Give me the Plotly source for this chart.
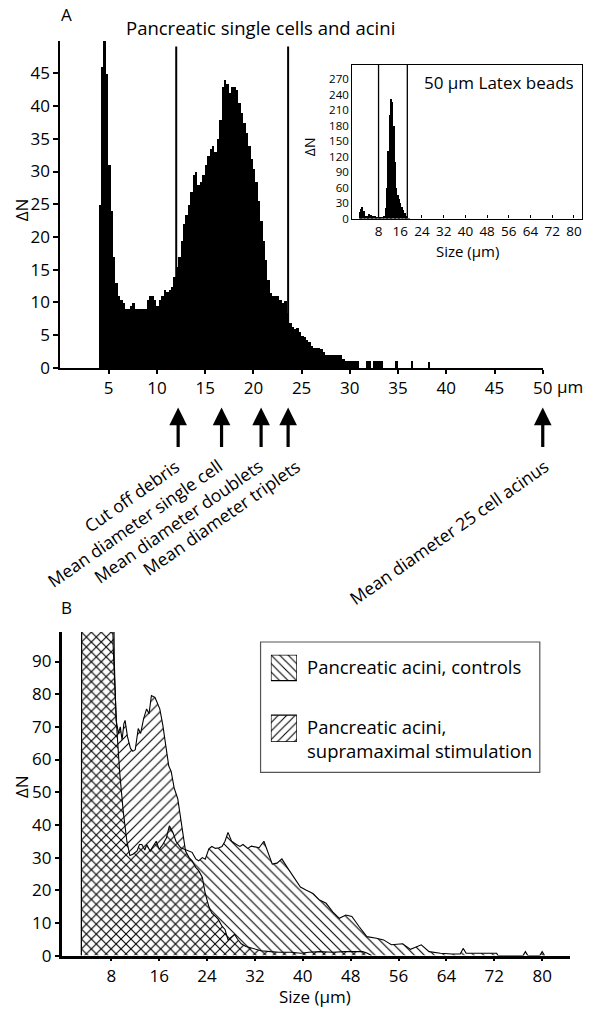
import plotly.graph_objects as go

W, H = 597, 1020


def px(x):
    return x / W


def py(y):
    return 1 - y / H


FONT = "'Open Sans', Lato, sans-serif"

# ---------------- Panel A : pancreatic single cells and acini ----------------
A_BIN_START = 4.0
A_BIN_WIDTH = 0.25
a_counts = [
    25, 46, 50, 45, 31, 24, 17, 13,            # 4.0 - 6.0
    11, 10.5, 10, 9.1, 9, 9.5, 10, 9,          # 6.0 - 8.0
    9, 9, 9, 9.1, 10.5, 11, 11, 10.5,          # 8.0 - 10.0
    9.5, 10.5, 11, 12, 11.6, 12, 12.4, 14,     # 10.0 - 12.0
    15.5, 17, 19.5, 22, 23.5, 25, 27, 29.5,    # 12.0 - 14.0
    30, 28, 28.5, 29.5, 31, 32.5, 33.5, 34,    # 14.0 - 16.0
    33, 35, 38, 43, 44, 43.5, 42, 43,          # 16.0 - 18.0
    43, 42.5, 40.5, 39, 37.5, 36, 34, 32,      # 18.0 - 20.0
    30.5, 28.5, 25.5, 22.5, 19.5, 16.5, 13.5, 11.5,  # 20.0 - 22.0
    11, 11, 11, 10.5, 10, 10.3, 8.5, 7,        # 22.0 - 24.0
    6.3, 6, 6.1, 5.5, 5, 4.8, 4.4, 4.1,        # 24.0 - 26.0
    3.5, 3.1, 3.1, 3.1, 3, 2.5, 2.1, 2.1,      # 26.0 - 28.0
    2.1, 2.1, 2, 2.1, 2.1, 1.5, 1.1, 1.1,      # 28.0 - 30.0
    1.1, 1.1, 1.1, 1.1, 0, 0, 0, 1.1,          # 30.0 - 32.0
    1.1, 0, 1.1, 1.1, 1.1, 1.1,                # 32.0 - 33.5
]
a_size = [A_BIN_START + A_BIN_WIDTH * (i + 0.5) for i in range(len(a_counts))]
a_sparse_size = [34.9, 36.5, 38.3]
a_sparse_counts = [1.2, 1.1, 1.0]
a_cut_lines = [12.0, 23.6]
a_line_top = 49.1
a_xticks = [5, 10, 15, 20, 25, 30, 35, 40, 45, 50]
a_yticks = [0, 5, 10, 15, 20, 25, 30, 35, 40, 45]
arrow_pos = [12.2, 16.7, 20.8, 23.6, 50.0]
arrow_labels = ["Cut off debris", "Mean diameter single cell",
                "Mean diameter doublets", "Mean diameter triplets",
                "Mean diameter 25 cell acinus"]
arrow_label_shift = [8, 8, 9, 20, 13]

# ---------------- Inset : 50 um latex beads ----------------
INSET_BIN_START = 1.0
INSET_BIN_WIDTH = 0.5
inset_counts = [
    12, 18, 23, 14, 6, 5, 6, 8, 7, 6, 5, 5, 4, 3,   # 1.0 - 8.0
    3, 3, 3, 4, 6, 20, 60, 130, 200, 232, 225, 180,  # 8.0 - 14.0
    110, 60, 45, 38, 30, 22, 16, 10, 6, 2, 1,        # 14.0 - 19.5
]
inset_size = [INSET_BIN_START + INSET_BIN_WIDTH * (i + 0.5) for i in range(len(inset_counts))]
inset_lines = [8.0, 18.6]
inset_line_top = 297
inset_xticks = [8, 16, 24, 32, 40, 48, 56, 64, 72, 80]
inset_yticks = [0, 30, 60, 90, 120, 150, 180, 210, 240, 270]

# ---------------- Panel B : controls vs supramaximal stimulation ----------------
b_ctrl_size = [3.0, 3.05, 7.9, 8.3, 8.6, 8.9, 9.4, 10.0, 10.6, 11.1, 11.6, 12.3, 12.7,
               13.1, 13.6, 13.9, 14.5, 15.0, 15.5, 16.0, 16.6, 17.2, 17.7, 18.3, 18.8,
               19.6, 20.4, 21.0, 21.5, 22.1, 22.6, 23.2, 23.7, 24.3, 24.8, 25.4, 26.0,
               26.5, 27.0, 27.5, 28.1, 28.9, 29.5, 30.0, 30.8, 31.4, 31.9, 32.7, 33.5,
               34.1, 34.9, 35.7, 36.5, 37.4, 38.5, 39.6, 40.6, 41.7, 42.8, 43.9, 45.0,
               46.1, 47.2, 48.2, 49.4, 50.7, 52.3, 53.5, 54.8, 56.7, 58.0, 59.8, 61.1,
               63.0, 64.9, 66.3, 66.8, 67.3, 72.4, 72.6, 76.8, 77.2, 77.6, 79.6, 80.0,
               80.4]
b_ctrl_dN = [0, 150, 150, 95, 82, 70, 56, 44, 35, 30.6, 31, 32, 34,
             34, 32.3, 34, 32, 33.5, 35, 32.5, 34, 36, 39.7, 37.7, 35,
             33, 32.5, 32, 31.6, 29.6, 29, 30, 29.5, 32.7, 33.4, 32.8, 33,
             33.4, 35, 37.7, 35, 34, 33.4, 34, 32.8, 33.5, 33.3, 33, 35,
             32, 28, 28.3, 29.6, 27, 24, 21, 20, 19, 17, 16, 13.4,
             11.4, 12.4, 12, 8.9, 5.8, 5.3, 4.8, 3.3, 3.6, 1.9, 3.3, 1.2,
             0.7, 0.5, 0.5, 2.2, 0.7, 0.7, 0, 0, 1.2, 0, 0, 1.2,
             0]
b_stim_size = [3.0, 3.05, 8.2, 8.5, 8.8, 9.2, 9.5, 9.8, 10.1, 10.3, 10.7, 11.2, 11.6,
               12.0, 12.5, 12.9, 13.4, 13.9, 14.3, 14.7, 15.3, 15.7, 16.1, 16.6, 17.2,
               17.6, 18.0, 18.5, 19.1, 19.6, 20.2, 20.4, 21.0, 21.5, 22.1, 22.6, 23.2,
               23.7, 24.3, 24.8, 25.4, 25.9, 26.5, 27.0, 27.5, 28.0, 28.6, 29.1, 29.7,
               30.5, 31.9, 33.0, 34.6, 36.0, 38.0, 39.7, 41.0, 42.8, 45.0, 47.0, 50.0,
               50.7, 51.5]
b_stim_dN = [0, 150, 150, 90, 72, 68, 70, 66, 71, 72, 67, 63.4, 62.5,
             63, 69.5, 68, 72.5, 75.5, 74, 79.6, 79, 77.5, 75.5, 70.6, 62.4,
             58, 56.4, 51.3, 48, 42.2, 34, 32, 30, 29, 27, 26, 24,
             19, 15, 13, 12, 11, 9, 8, 4.8, 5.5, 6.5, 5, 3.6,
             2.8, 2, 1.5, 1.2, 1, 1, 0.7, 1, 1.2, 1, 1.2, 1.2,
             0.8, 0]
b_xticks = [8, 16, 24, 32, 40, 48, 56, 64, 72, 80]
b_yticks = [0, 10, 20, 30, 40, 50, 60, 70, 80, 90]
legend_labels = ["Pancreatic acini, controls",
                 "Pancreatic acini,<br>supramaximal stimulation"]

fig = go.Figure()

# Panel A histogram
fig.add_trace(go.Bar(x=a_size, y=a_counts, width=A_BIN_WIDTH, marker=dict(color="black", line=dict(width=0)),
                     xaxis="x", yaxis="y"))
fig.add_trace(go.Bar(x=a_sparse_size, y=a_sparse_counts, width=0.2, marker=dict(color="black", line=dict(width=0)),
                     xaxis="x", yaxis="y"))
for xv in a_cut_lines:
    fig.add_trace(go.Scatter(x=[xv, xv], y=[0, a_line_top], mode="lines",
                             line=dict(color="black", width=2), xaxis="x", yaxis="y"))

# Inset histogram
fig.add_trace(go.Bar(x=inset_size, y=inset_counts, width=INSET_BIN_WIDTH,
                     marker=dict(color="black", line=dict(width=0)), xaxis="x2", yaxis="y2"))
for xv in inset_lines:
    fig.add_trace(go.Scatter(x=[xv, xv], y=[0, inset_line_top], mode="lines",
                             line=dict(color="black", width=1.3), xaxis="x2", yaxis="y2"))

# Panel B areas
fig.add_trace(go.Scatter(x=b_ctrl_size, y=b_ctrl_dN, mode="lines", fill="tozeroy",
                         fillcolor="rgba(0,0,0,0)",
                         fillpattern=dict(shape="\\", fgcolor="black", bgcolor="rgba(0,0,0,0)",
                                          size=7, solidity=0.16, fillmode="replace"),
                         line=dict(color="black", width=1.1), xaxis="x3", yaxis="y3"))
fig.add_trace(go.Scatter(x=b_stim_size, y=b_stim_dN, mode="lines", fill="tozeroy",
                         fillcolor="rgba(0,0,0,0)",
                         fillpattern=dict(shape="/", fgcolor="black", bgcolor="rgba(0,0,0,0)",
                                          size=7, solidity=0.16, fillmode="replace"),
                         line=dict(color="black", width=1.1), xaxis="x3", yaxis="y3"))

# Legend swatches (own small axis)
fig.add_trace(go.Scatter(x=[0, 1, 1, 0, 0], y=[62, 62, 88, 88, 62], mode="lines", fill="toself",
                         fillcolor="rgba(0,0,0,0)",
                         fillpattern=dict(shape="\\", fgcolor="black", bgcolor="rgba(0,0,0,0)",
                                          size=6, solidity=0.18, fillmode="replace"),
                         line=dict(color="black", width=1.3), xaxis="x4", yaxis="y4"))
fig.add_trace(go.Scatter(x=[0, 1, 1, 0, 0], y=[0, 0, 27, 27, 0], mode="lines", fill="toself",
                         fillcolor="rgba(0,0,0,0)",
                         fillpattern=dict(shape="/", fgcolor="black", bgcolor="rgba(0,0,0,0)",
                                          size=6, solidity=0.18, fillmode="replace"),
                         line=dict(color="black", width=1.3), xaxis="x4", yaxis="y4"))

axis_common = dict(showgrid=False, zeroline=False, linecolor="black", ticks="outside",
                   tickcolor="black", color="black", showline=True)

annotations = []


def ann(x, y, text, size=16, **kw):
    d = dict(x=px(x), y=py(y), xref="paper", yref="paper", text=text, showarrow=False,
             xanchor="center", yanchor="middle",
             font=dict(family=FONT, size=size, color="black"))
    d.update(kw)
    annotations.append(d)


ann(68, 15, "A", 17)
ann(265, 28, "Pancreatic single cells and acini", 18.5)
ann(22, 212, "ΔN", 17, textangle=-90)
ann(564, 391, "μm", 17, xanchor="left")
ann(507, 83, "50 μm Latex beads", 17)
ann(315, 148, "ΔN", 14, textangle=-90)
ann(475, 254, "Size (μm)", 15)
ann(68, 614, "B", 17)
ann(22, 795, "ΔN", 17, textangle=-90)
ann(320, 1007, "Size (μm)", 17)
ann(310, 674, legend_labels[0], 18.5, xanchor="left", align="left")
ann(310, 747, legend_labels[1], 18.5, xanchor="left", align="left")

for xv, lab, sh in zip(arrow_pos, arrow_labels, arrow_label_shift):
    annotations.append(dict(x=xv, xref="x", y=py(412), yref="paper", ax=0, ay=41,
                            axref="pixel", ayref="pixel", showarrow=True, arrowhead=2,
                            arrowsize=1.1, arrowwidth=3.2, arrowcolor="black", text=""))
    annotations.append(dict(x=xv, xref="x", y=py(456), yref="paper", text=lab, textangle=-35,
                            xanchor="right", yanchor="top", showarrow=False, xshift=sh,
                            font=dict(family=FONT, size=17.5, color="black")))

fig.update_layout(
    width=W, height=H, margin=dict(l=0, r=0, t=0, b=0),
    paper_bgcolor="white", plot_bgcolor="white", showlegend=False,
    bargap=0, font=dict(family=FONT, color="black"),
    xaxis=dict(axis_common, domain=[px(61.5), px(552)], range=[0, 50], anchor="y",
               tickvals=a_xticks, ticktext=[str(v) for v in a_xticks], linewidth=2,
               ticklen=4, tickwidth=1.5, tickfont=dict(family=FONT, size=17)),
    yaxis=dict(axis_common, domain=[py(372), py(41)], range=[0, 50], anchor="x",
               tickvals=a_yticks, linewidth=2, ticklen=5, tickwidth=1.5,
               tickfont=dict(family=FONT, size=17)),
    xaxis2=dict(axis_common, domain=[px(358.3), px(592.3)], range=[-1.67, 83.1], anchor="y2",
                tickvals=inset_xticks, mirror=True, linewidth=1.3, ticks="inside", ticklen=3,
                tickfont=dict(family=FONT, size=13.5)),
    yaxis2=dict(axis_common, domain=[py(221), py(65.7)], range=[0, 297], anchor="x2",
                tickvals=inset_yticks, mirror=True, linewidth=1.3, ticks="",
                tickfont=dict(family=FONT, size=11.5)),
    xaxis3=dict(axis_common, domain=[px(62.7), px(580)], range=[-0.3, 84.7], anchor="y3",
                tickvals=b_xticks, linewidth=2.5, ticklen=3, tickwidth=1.5,
                tickfont=dict(family=FONT, size=17)),
    yaxis3=dict(axis_common, domain=[py(966), py(639)], range=[0, 99], anchor="x3",
                tickvals=b_yticks, linewidth=2.5, ticklen=4, tickwidth=1.5,
                tickfont=dict(family=FONT, size=17)),
    xaxis4=dict(domain=[px(275.5), px(302)], range=[0, 1], anchor="y4", visible=False),
    yaxis4=dict(domain=[py(750), py(662)], range=[0, 88], anchor="x4", visible=False),
    shapes=[dict(type="rect", xref="paper", yref="paper", x0=px(265), x1=px(549),
                 y0=py(780.7), y1=py(649), line=dict(color="#555", width=1.2))],
    annotations=annotations,
)

fig.write_html("out.html", config={"displayModeBar": False},
               post_script="document.body.style.margin='0px';")
